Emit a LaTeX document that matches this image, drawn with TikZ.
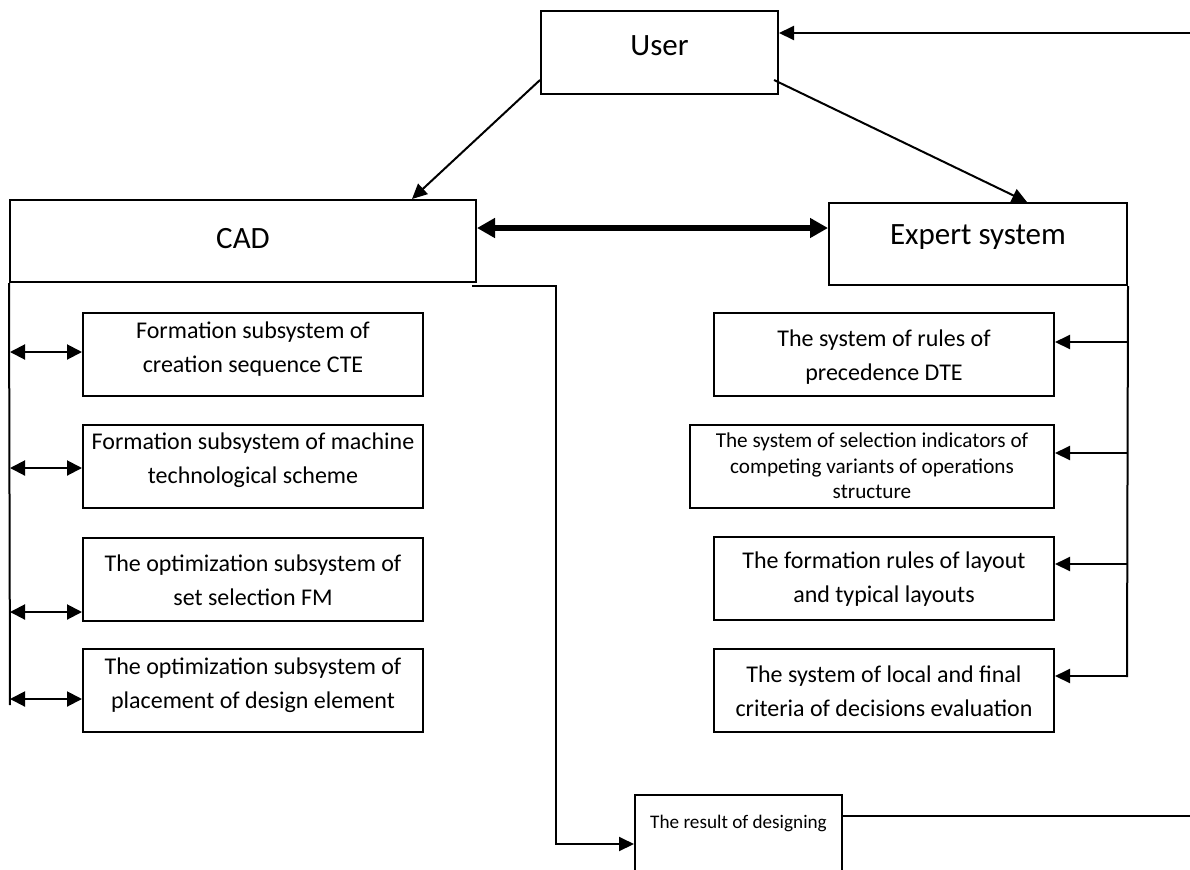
\documentclass[tikz,border=0pt]{standalone}
\usepackage{fontspec}
\setmainfont{Carlito}
\usetikzlibrary{arrows.meta,calc}
\begin{document}
\begin{tikzpicture}[x=0.5pt,y=-0.5pt,
  box/.style={draw,line width=1pt,inner sep=0pt,minimum height=41.5pt},
  txt/.style={inner sep=0pt,align=center,font=\fontsize{12pt}{17pt}\selectfont},
  txtb/.style={inner sep=0pt,align=center,font=\fontsize{15.5pt}{18pt}\selectfont},
  txtr/.style={inner sep=0pt,align=center,font=\fontsize{9.6pt}{12pt}\selectfont},
  txts/.style={inner sep=0pt,align=center,font=\fontsize{10.6pt}{12.75pt}\selectfont},
  conn/.style={line width=1pt},
  arr/.style={conn,-{Triangle[length=7.5pt,width=7pt]}},
  darr/.style={conn,{Triangle[length=7.5pt,width=7.5pt]}-{Triangle[length=7.5pt,width=7.5pt]}},
  bigarr/.style={line width=3pt,{Triangle[length=9pt,width=9.5pt]}-{Triangle[length=9pt,width=9.5pt]}}
]
\useasboundingbox (0,0) rectangle (1190,869);
\clip (0,0) rectangle (1190,869);

% boxes
\node[box,minimum width=118.5pt] (user) at (659.5,52.5) {};
\node[box,minimum width=233pt,minimum height=41pt] (cad) at (243,241) {};
\node[box,minimum width=149pt,minimum height=41pt] (expert) at (978,244) {};

\node[box,minimum width=170pt] (l1) at (253,354.5) {};
\node[box,minimum width=170pt] (l2) at (253,466.5) {};
\node[box,minimum width=170pt] (l3) at (253,579) {};
\node[box,minimum width=170pt] (l4) at (253,690.5) {};

\node[box,minimum width=170pt] (r1) at (884,354.5) {};
\node[box,minimum width=182pt] (r2) at (872,466.5) {};
\node[box,minimum width=170pt] (r3) at (884,578.5) {};
\node[box,minimum width=170pt] (r4) at (884,690.5) {};

\node[box,minimum width=103.5pt,minimum height=52.5pt] (res) at (738.5,847.5) {};

% texts
\node[txtb] (userT) at (659.5,46) {User};
\node[txtb] (cadT) at (243,239) {CAD};
\node[txtb] (expertT) at (978,237) {Expert system};

\node[txt] (l1T) at (253,349) {Formation subsystem of\\creation sequence CTE};
\node[txt] (l2T) at (253,460) {Formation subsystem of machine\\technological scheme};
\node[txt] (l3T) at (253,580) {The optimization subsystem of\\set selection FM};
\node[txt] (l4T) at (253,685) {The optimization subsystem of\\placement of design element};

\node[txt] (r1T) at (884,357) {The system of rules of\\precedence DTE};
\node[txts] (r2T) at (872,466) {The system of selection indicators of\\competing variants of operations\\structure};
\node[txt] (r3T) at (884,579) {The formation rules of layout\\and typical layouts};
\node[txt] (r4T) at (884,691) {The system of local and final\\criteria of decisions evaluation};

\node[txtr] (resT) at (738.5,823) {The result of designing};

% coordinates
\coordinate (uin) at (1190,33);
\coordinate (mid) at (650,228);
\coordinate (busLend) at (10,705);
\coordinate (busRend) at (1127,677);
\coordinate (co) at (472,286);
\coordinate (rin) at (556,844);
\coordinate (resout) at (1190,816);
\coordinate (a1) at (10,352);
\coordinate (a2) at (10,468);
\coordinate (a3) at (10,612);
\coordinate (a4) at (10,699);
\coordinate (b1) at (1127,342);
\coordinate (b2) at (1127,453);
\coordinate (b3) at (1127,564);
\coordinate (b4) at (1127,676);

% connectors
\draw[arr] (uin) -- (uin -| user.east);
\draw[arr] ($(user.south west)+(0,-15)$) -- ($(cad.north west)+(403,0)$);
\draw[arr] ($(user.south east)+(-5,-15)$) -- ($(expert.north west)+(199,0)$);
\draw[bigarr] (cad.east |- mid) -- (expert.west |- mid);

\draw[conn] (cad.south west) -- (busLend);
\draw[conn] (expert.south east) -- (busRend);

\draw[darr] (a1) -- (a1 -| l1.west);
\draw[darr] (a2) -- (a2 -| l2.west);
\draw[darr] (a3) -- (a3 -| l3.west);
\draw[darr] (a4) -- (a4 -| l4.west);

\draw[arr] (b1) -- (b1 -| r1.east);
\draw[arr] (b2) -- (b2 -| r2.east);
\draw[arr] (b3) -- (b3 -| r3.east);
\draw[arr] (b4) -- (b4 -| r4.east);

\draw[arr] (co) -| (rin) -- (rin -| res.west);
\draw[conn] (resout -| res.east) -- (resout);
\end{tikzpicture}
\end{document}
